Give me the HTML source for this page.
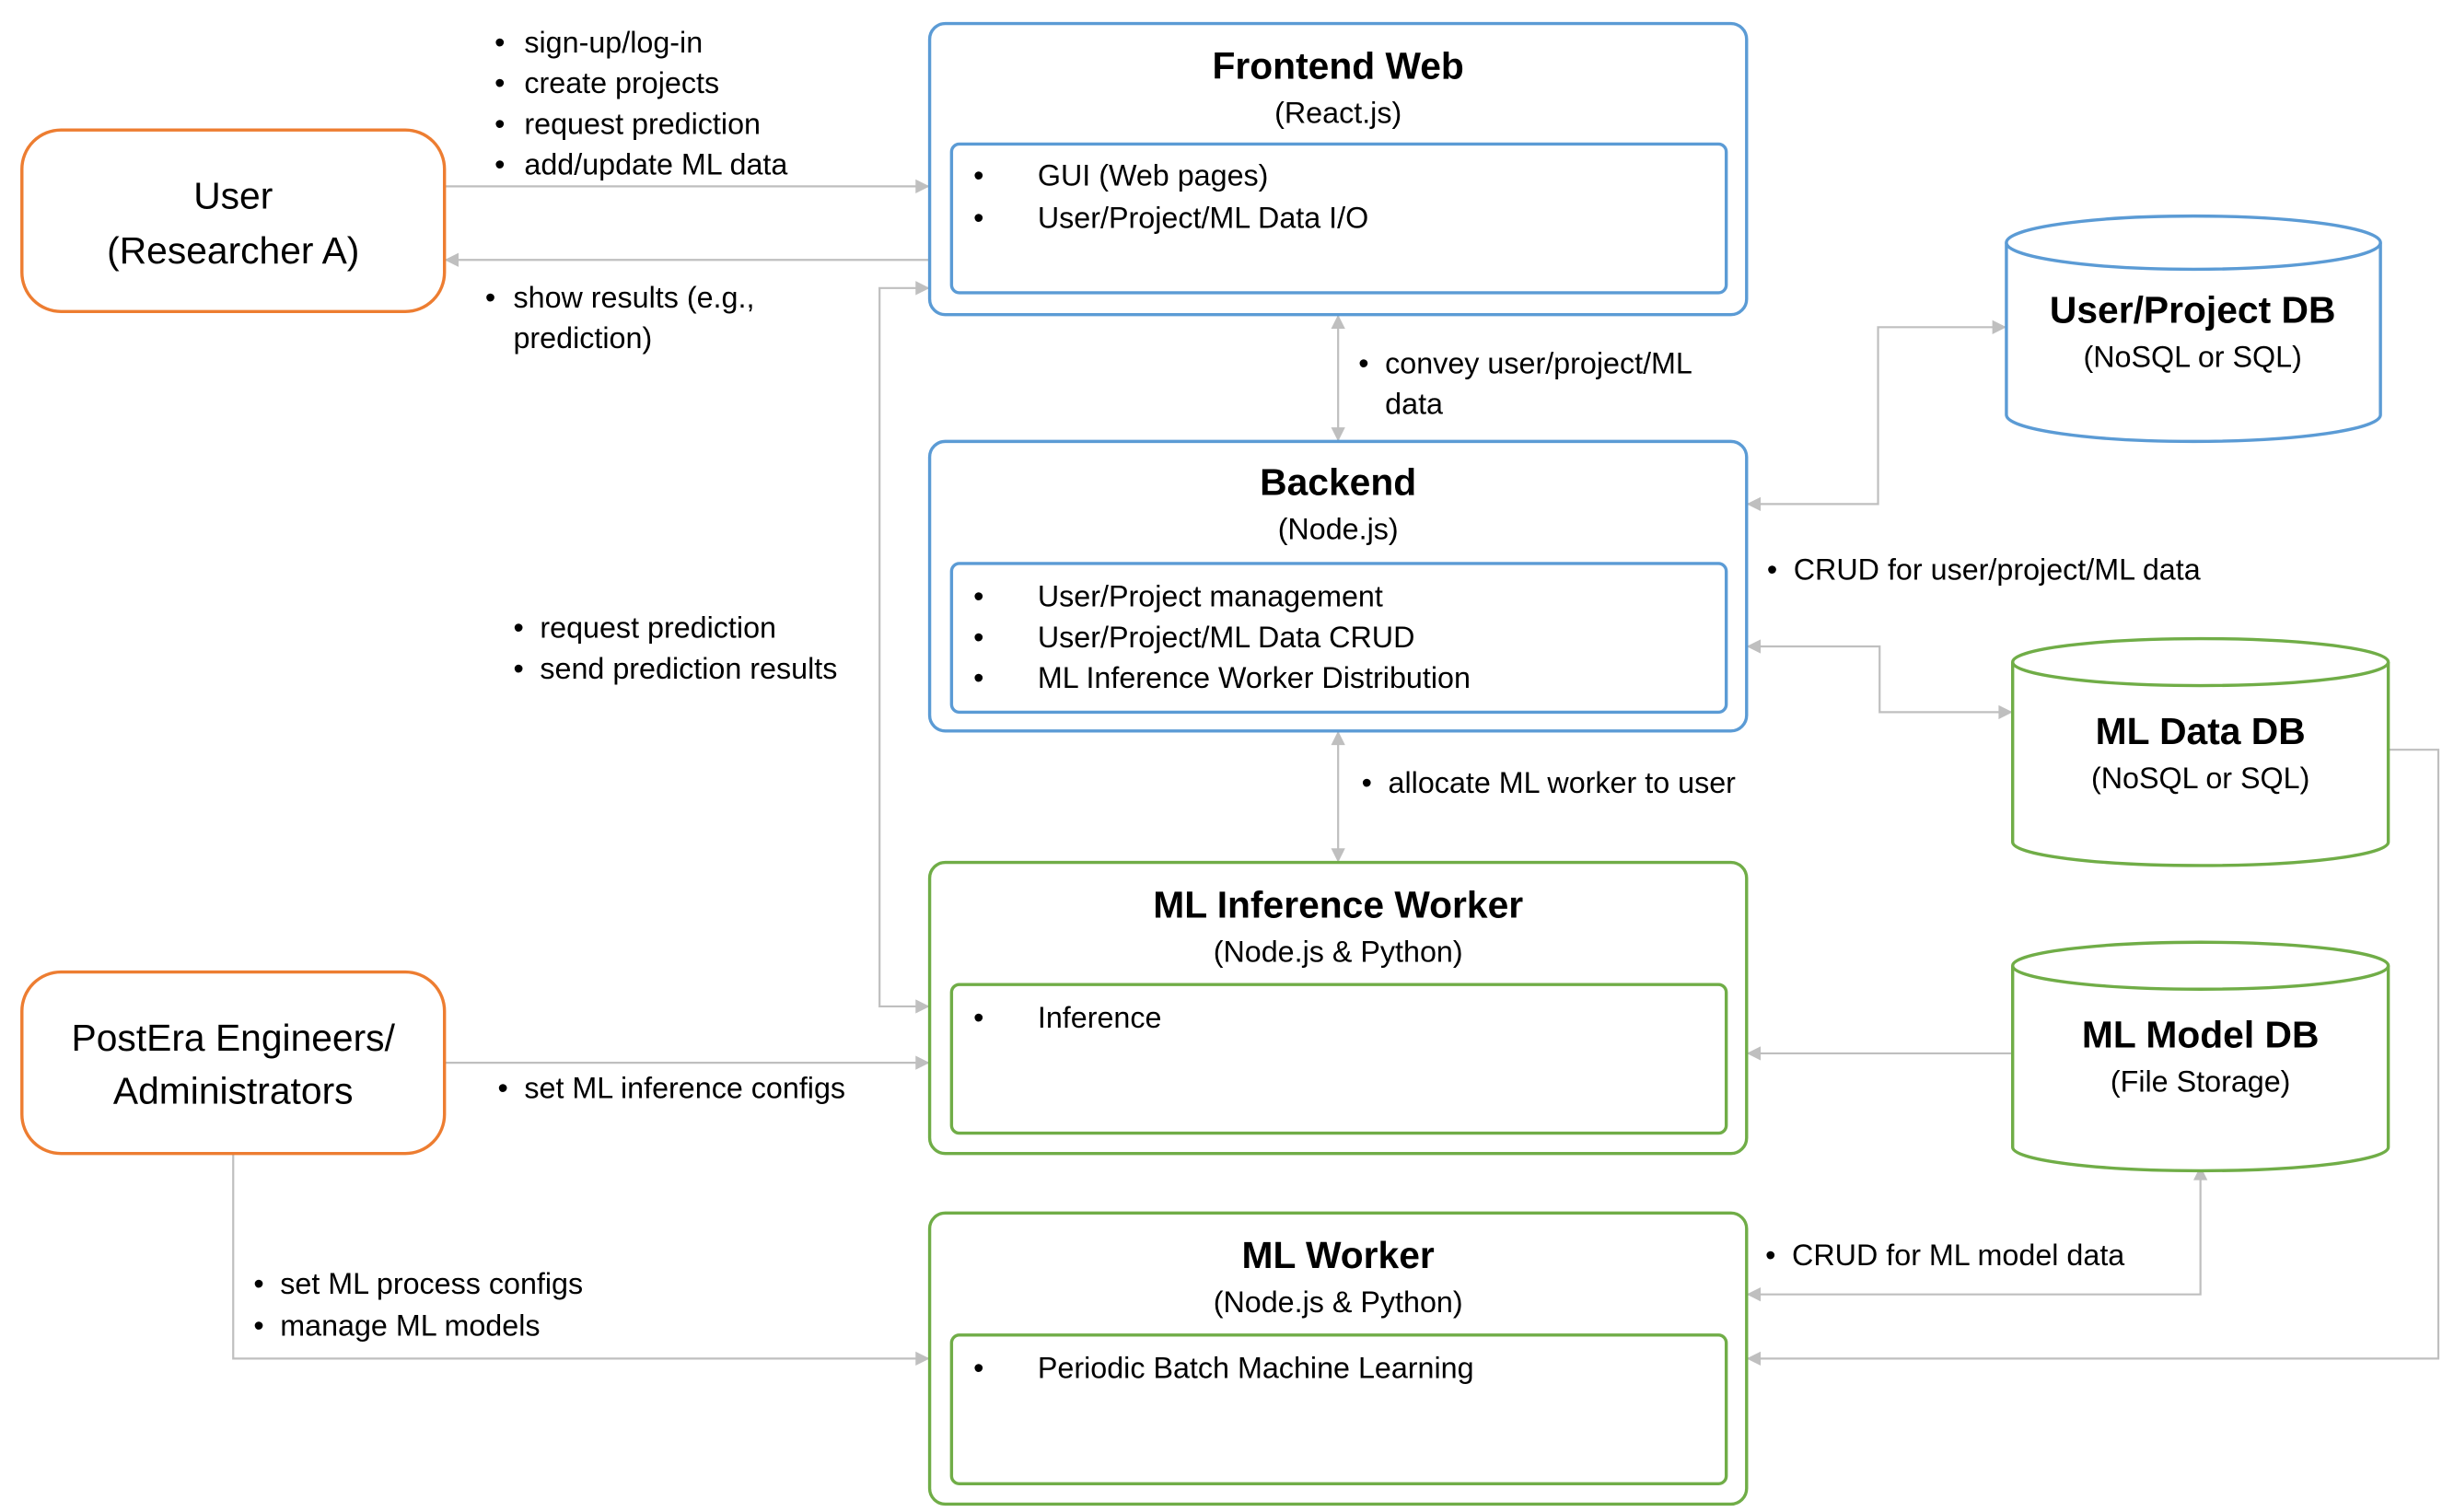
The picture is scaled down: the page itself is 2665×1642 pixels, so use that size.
<!DOCTYPE html>
<html><head><meta charset="utf-8"><style>html,body{margin:0;padding:0;background:#fff}svg{display:block}text{font-family:"Liberation Sans",sans-serif;fill:#000;dominant-baseline:central}</style></head>
<body>
<svg width="2665" height="1642" viewBox="0 0 1568 966" xmlns="http://www.w3.org/2000/svg">
<defs><marker id="a" viewBox="0 0 10 10" refX="10" refY="5" markerWidth="10" markerHeight="9" orient="auto-start-reverse" markerUnits="userSpaceOnUse"><path d="M0,0 L10,5 L0,10z" fill="#BFBFBF"/></marker>
<style>.c{fill:none;stroke:#BFBFBF;stroke-width:1.3;marker-end:url(#a)}.d{marker-start:url(#a)}</style></defs>
<rect width="1568" height="966" fill="#fff"/>
<path class="c" d="M284,119H594"/>
<path class="c" d="M594,166H284"/>
<path class="c d" d="M594,184H562V643H594"/>
<path class="c d" d="M855,201V282"/>
<path class="c d" d="M855,467V551"/>
<path class="c d" d="M1116,322H1200V209H1282"/>
<path class="c d" d="M1116,413H1201V455H1286"/>
<path class="c" d="M1526,479H1558V868H1116"/>
<path class="c" d="M1286,673H1116"/>
<path class="c d" d="M1116,827H1406V745"/>
<path class="c" d="M284,679H594"/>
<path class="c" d="M149,737V868H594"/>
<g fill="#fff" stroke="#ED7D31" stroke-width="2">
<rect x="14" y="83" width="270" height="116" rx="25"/>
<rect x="14" y="621" width="270" height="116" rx="25"/></g>
<g font-size="24" text-anchor="middle">
<text x="149" y="125">User</text><text x="149" y="160">(Researcher A)</text>
<text x="149" y="663">PostEra Engineers/</text><text x="149" y="697">Administrators</text></g>
<g fill="none" stroke-width="2">
<g stroke="#5B9BD5"><rect x="594" y="15" width="522" height="186" rx="10"/><rect x="608" y="92" width="495" height="95" rx="5"/>
<rect x="594" y="282" width="522" height="185" rx="10"/><rect x="608" y="360" width="495" height="95" rx="5"/></g>
<g stroke="#70AD47"><rect x="594" y="551" width="522" height="186" rx="10"/><rect x="608" y="629" width="495" height="95" rx="5"/>
<rect x="594" y="775" width="522" height="186" rx="10"/><rect x="608" y="853" width="495" height="95" rx="5"/></g>
</g>
<g text-anchor="middle">
<text x="855" y="42" font-size="24" font-weight="bold">Frontend Web</text><text x="855" y="72" font-size="19">(React.js)</text>
<text x="855" y="308" font-size="24" font-weight="bold">Backend</text><text x="855" y="338" font-size="19">(Node.js)</text>
<text x="855" y="578" font-size="24" font-weight="bold">ML Inference Worker</text><text x="855" y="608" font-size="19">(Node.js &amp; Python)</text>
<text x="855" y="802" font-size="24" font-weight="bold">ML Worker</text><text x="855" y="832" font-size="19">(Node.js &amp; Python)</text>
</g>
<g font-size="19">
<text x="622" y="112">•</text><text x="663" y="112">GUI (Web pages)</text>
<text x="622" y="139">•</text><text x="663" y="139">User/Project/ML Data I/O</text>
<text x="622" y="381">•</text><text x="663" y="381">User/Project management</text>
<text x="622" y="407">•</text><text x="663" y="407">User/Project/ML Data CRUD</text>
<text x="622" y="433">•</text><text x="663" y="433">ML Inference Worker Distribution</text>
<text x="622" y="650">•</text><text x="663" y="650">Inference</text>
<text x="622" y="874">•</text><text x="663" y="874">Periodic Batch Machine Learning</text>
</g>
<g stroke-width="2" fill="#fff">
<g stroke="#5B9BD5"><path d="M1282,155V265A119.5,17 0 0 0 1521,265V155"/><ellipse cx="1401.5" cy="155" rx="119.5" ry="17"/></g>
<g stroke="#70AD47"><path d="M1286,423V538A120,15 0 0 0 1526,538V423"/><ellipse cx="1406" cy="423" rx="120" ry="15"/>
<path d="M1286,617V733A120,15 0 0 0 1526,733V617"/><ellipse cx="1406" cy="617" rx="120" ry="15"/></g>
</g>
<g text-anchor="middle">
<text x="1401" y="198" font-size="24" font-weight="bold">User/Project DB</text><text x="1401" y="228" font-size="19">(NoSQL or SQL)</text>
<text x="1406" y="467" font-size="24" font-weight="bold">ML Data DB</text><text x="1406" y="497" font-size="19">(NoSQL or SQL)</text>
<text x="1406" y="661" font-size="24" font-weight="bold">ML Model DB</text><text x="1406" y="691" font-size="19">(File Storage)</text>
</g>
<g font-size="19">
<text x="316" y="27">•</text><text x="335" y="27">sign-up/log-in</text>
<text x="316" y="53">•</text><text x="335" y="53">create projects</text>
<text x="316" y="79">•</text><text x="335" y="79">request prediction</text>
<text x="316" y="105">•</text><text x="335" y="105">add/update ML data</text>
<text x="310" y="190">•</text><text x="328" y="190">show results (e.g.,</text><text x="328" y="216">prediction)</text>
<text x="868" y="232">•</text><text x="885" y="232">convey user/project/ML</text><text x="885" y="258">data</text>
<text x="1129" y="364">•</text><text x="1146" y="364">CRUD for user/project/ML data</text>
<text x="328" y="401">•</text><text x="345" y="401">request prediction</text>
<text x="328" y="427">•</text><text x="345" y="427">send prediction results</text>
<text x="870" y="500">•</text><text x="887" y="500">allocate ML worker to user</text>
<text x="318" y="695">•</text><text x="335" y="695">set ML inference configs</text>
<text x="1128" y="802">•</text><text x="1145" y="802">CRUD for ML model data</text>
<text x="162" y="820">•</text><text x="179" y="820">set ML process configs</text>
<text x="162" y="847">•</text><text x="179" y="847">manage ML models</text>
</g>
</svg>
</body></html>
